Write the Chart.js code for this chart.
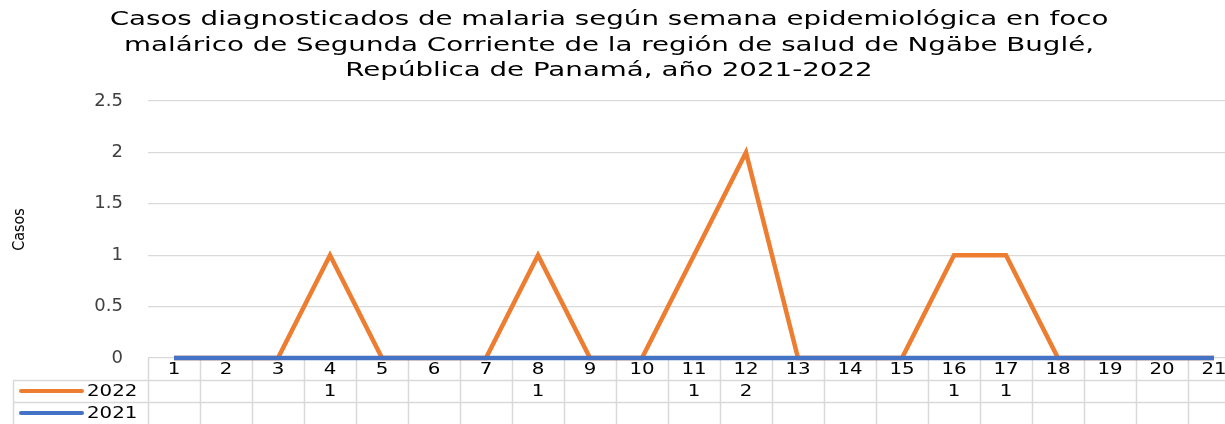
<!DOCTYPE html>
<html lang="es">
<head>
<meta charset="utf-8">
<title>Casos de malaria por semana epidemiológica</title>
<script src="https://cdn.jsdelivr.net/npm/chart.js@4/dist/chart.umd.min.js"></script>
<style>
  html, body { margin: 0; padding: 0; background: #fff; overflow: hidden; }
  #wrap { position: relative; width: 1250px; height: 424px; }
</style>
</head>
<body>
<div id="wrap"><canvas id="malariaChart"></canvas></div>
<script>
/* ---------- Data ---------- */
const weeks = ['1','2','3','4','5','6','7','8','9','10','11','12','13','14','15','16','17','18','19','20','21'];
const cases2022 = [0,0,0,1,0,0,0,1,0,0,1,2,0,0,0,1,1,0,0,0,0];
const cases2021 = [0,0,0,0,0,0,0,0,0,0,0,0,0,0,0,0,0,0,0,0,0];
const yTicks = [0, 0.5, 1, 1.5, 2, 2.5];
const titleLines = [
  'Casos diagnosticados de malaria según semana epidemiológica en foco',
  'malárico de Segunda Corriente de la región de salud de Ngäbe Buglé,',
  'República de Panamá, año 2021-2022'
];

const colors = { orange: '#ED7D31', blue: '#4472C4', grid: '#D9D9D9', ink: '#404040' };

// the reference text is drawn horizontally stretched
function wideText(ctx, text, x, y, align, sx) {
  ctx.save();
  ctx.translate(x, y);
  ctx.scale(sx || 1.32, 1);
  ctx.textAlign = align || 'center';
  ctx.fillText(text, 0, 0);
  ctx.restore();
}

/* ---------- Title ---------- */
const titlePlugin = {
  id: 'wideTitle',
  afterDraw(chart) {
    const ctx = chart.ctx;
    ctx.save();
    ctx.fillStyle = '#000';
    ctx.font = '20px "DejaVu Sans"';
    ctx.textBaseline = 'middle';
    titleLines.forEach((line, i) => wideText(ctx, line, 609, 20 + i * 25.5, 'center', 1.385));
    ctx.restore();
  }
};

/* ---------- Excel-style data table under the axis ---------- */
const tablePlugin = {
  id: 'dataTable',
  beforeDatasetsDraw(chart) {
    const { ctx, chartArea: a, scales: { x } } = chart;
    const colW = x.width / weeks.length;
    const rowH = 22;
    const r0 = a.bottom, r1 = r0 + rowH, r2 = r1 + rowH, r3 = r2 + rowH;
    const headLeft = 13;

    ctx.save();
    ctx.strokeStyle = colors.grid;
    ctx.lineWidth = 1.5;
    ctx.beginPath();
    for (let i = 0; i <= weeks.length; i++) {
      const xb = Math.round(a.left + i * colW) + 0.5;
      ctx.moveTo(xb, r0); ctx.lineTo(xb, r3);
    }
    [r1, r2].forEach(r => { ctx.moveTo(headLeft, r + 0.5); ctx.lineTo(a.right, r + 0.5); });
    ctx.moveTo(headLeft + 0.5, r1); ctx.lineTo(headLeft + 0.5, r3);
    ctx.stroke();

    ctx.fillStyle = '#000';
    ctx.font = '15px "DejaVu Sans"';
    ctx.textBaseline = 'middle';
    weeks.forEach((w, i) => {
      const cx = x.getPixelForValue(i);
      wideText(ctx, w, cx, r0 + rowH / 2 + 1, 'center');
      if (cases2022[i]) wideText(ctx, String(cases2022[i]), cx, r1 + rowH / 2 + 1, 'center');
      if (cases2021[i]) wideText(ctx, String(cases2021[i]), cx, r2 + rowH / 2 + 1, 'center');
    });

    // legend keys inside the row headers
    const keys = [
      { label: '2022', color: colors.orange, y: r1 + rowH / 2 },
      { label: '2021', color: colors.blue, y: r2 + rowH / 2 }
    ];
    keys.forEach(k => {
      ctx.strokeStyle = k.color;
      ctx.lineWidth = 4;
      ctx.lineCap = 'round';
      ctx.beginPath();
      ctx.moveTo(headLeft + 8, k.y); ctx.lineTo(headLeft + 69, k.y);
      ctx.stroke();
      wideText(ctx, k.label, headLeft + 74, k.y + 1, 'left');
    });
    ctx.restore();
  }
};

new Chart(document.getElementById('malariaChart'), {
  type: 'line',
  data: {
    labels: weeks,
    datasets: [
      { label: '2022', data: cases2022, borderColor: colors.orange, backgroundColor: colors.orange,
        borderWidth: 4.5, pointRadius: 0, tension: 0, order: 1, clip: 6 },
      { label: '2021', data: cases2021, borderColor: colors.blue, backgroundColor: colors.blue,
        borderWidth: 4.5, pointRadius: 0, tension: 0, order: 0, clip: 6 }
    ]
  },
  options: {
    responsive: true, maintainAspectRatio: false, animation: false,
    layout: { padding: { top: 101, right: 10, bottom: 66, left: 0 } },
    plugins: { legend: { display: false }, tooltip: { enabled: false } },
    scales: {
      x: { display: false, offset: true },
      y: {
        min: 0, max: 2.5,
        afterBuildTicks: s => { s.ticks = yTicks.map(v => ({ value: v })); },
        afterFit: s => { s.width = 148; },
        border: { display: false },
        grid: { color: colors.grid, lineWidth: 1.2, drawTicks: false },
        ticks: { color: colors.ink, padding: 25, font: { family: 'DejaVu Sans', size: 18 },
                 callback: v => String(v) },
        title: { display: true, text: 'Casos', color: '#000', padding: { top: 10, bottom: 0 },
                 font: { family: 'DejaVu Sans Condensed', size: 16 } }
      }
    }
  },
  plugins: [tablePlugin, titlePlugin]
});
</script>
</body>
</html>
